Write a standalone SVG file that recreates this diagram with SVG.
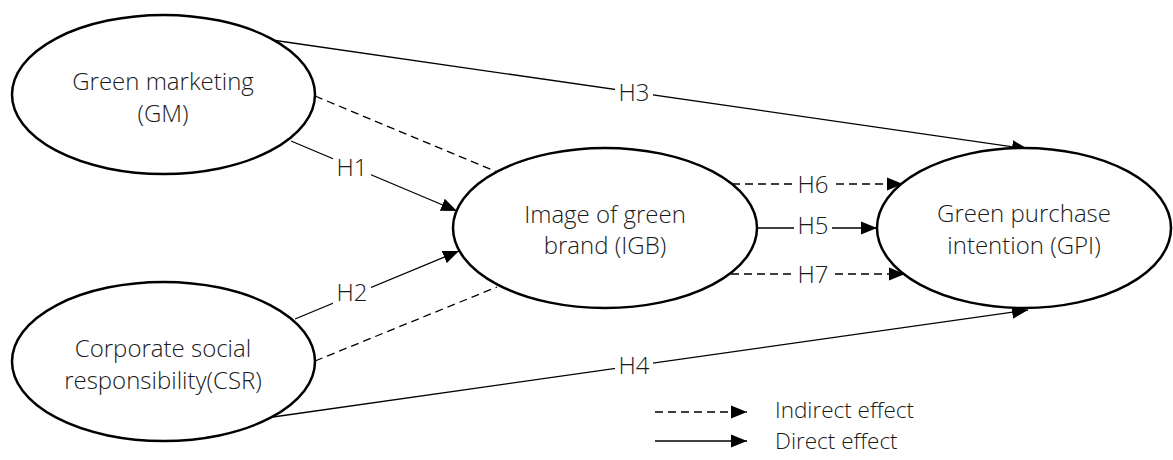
<svg xmlns="http://www.w3.org/2000/svg" width="1173" height="460" viewBox="0 0 1173 460">
<style>
.node{fill:#fff;stroke:#000;stroke-width:2.5}
.t{font-family:"Open Sans","Noto Sans",sans-serif;font-weight:300;font-size:24px;fill:#1a1a1a;text-anchor:middle}
.lg{font-family:"Open Sans","Noto Sans",sans-serif;font-weight:300;font-size:22.5px;fill:#1a1a1a}
.ln{fill:none;stroke:#000;stroke-width:1.3}
.d{stroke-dasharray:8 5}
.bg{fill:#fff}
</style>
<defs>
<marker id="ah" markerUnits="userSpaceOnUse" markerWidth="17" markerHeight="14" refX="16" refY="7" orient="auto">
<path d="M0,0.5 L16,7 L0,13.5 Z" fill="#000"/>
</marker>
</defs>
<g id="connectors">
<line class="ln" x1="272" y1="40" x2="1028" y2="149" marker-end="url(#ah)"/>
<line class="ln" x1="291" y1="141" x2="457" y2="211" marker-end="url(#ah)"/>
<line class="ln d" x1="315" y1="96" x2="497" y2="172"/>
<line class="ln" x1="295" y1="319" x2="459" y2="251" marker-end="url(#ah)"/>
<line class="ln d" x1="315" y1="361" x2="497" y2="287"/>
<line class="ln" x1="273" y1="417" x2="1028" y2="310" marker-end="url(#ah)"/>
<line class="ln d" x1="732" y1="184" x2="903" y2="184" marker-end="url(#ah)"/>
<line class="ln" x1="757" y1="228" x2="877" y2="228" marker-end="url(#ah)"/>
<line class="ln d" x1="731" y1="274" x2="905" y2="274" marker-end="url(#ah)"/>
<rect class="bg" x="615" y="80" width="38" height="26"/>
<text class="t" x="634" y="101">H3</text>
<rect class="bg" x="333" y="155" width="38" height="26"/>
<text class="t" x="352" y="176">H1</text>
<rect class="bg" x="333" y="280" width="38" height="26"/>
<text class="t" x="352" y="301">H2</text>
<rect class="bg" x="615" y="353" width="38" height="26"/>
<text class="t" x="634" y="374">H4</text>
<rect class="bg" x="794" y="172" width="38" height="26"/>
<text class="t" x="813" y="193">H6</text>
<rect class="bg" x="794" y="214" width="38" height="26"/>
<text class="t" x="813" y="234">H5</text>
<rect class="bg" x="794" y="262" width="38" height="26"/>
<text class="t" x="813" y="283">H7</text>
</g>
<g id="GM">
<ellipse class="node" cx="163.5" cy="94.5" rx="151.5" ry="79.5"/>
<text class="t" x="163" y="90">Green marketing</text>
<text class="t" x="163" y="122">(GM)</text>
</g>
<g id="CSR">
<ellipse class="node" cx="163.5" cy="361.5" rx="151.5" ry="79.5"/>
<text class="t" x="163" y="357">Corporate social</text>
<text class="t" x="163" y="389">responsibility(CSR)</text>
</g>
<g id="IGB">
<ellipse class="node" cx="605" cy="228" rx="152" ry="80"/>
<text class="t" x="605" y="223">Image of green</text>
<text class="t" x="605" y="254">brand (IGB)</text>
</g>
<g id="GPI">
<ellipse class="node" cx="1024" cy="228" rx="147" ry="80"/>
<text class="t" x="1024" y="222">Green purchase</text>
<text class="t" x="1024" y="254">intention (GPI)</text>
</g>
<g id="legend">
<line class="ln d" x1="655" y1="412" x2="747" y2="412" marker-end="url(#ah)"/>
<text class="lg" x="775" y="418">Indirect effect</text>
<line class="ln" x1="655" y1="441" x2="747" y2="441" marker-end="url(#ah)"/>
<text class="lg" x="775" y="449">Direct effect</text>
</g>
</svg>
